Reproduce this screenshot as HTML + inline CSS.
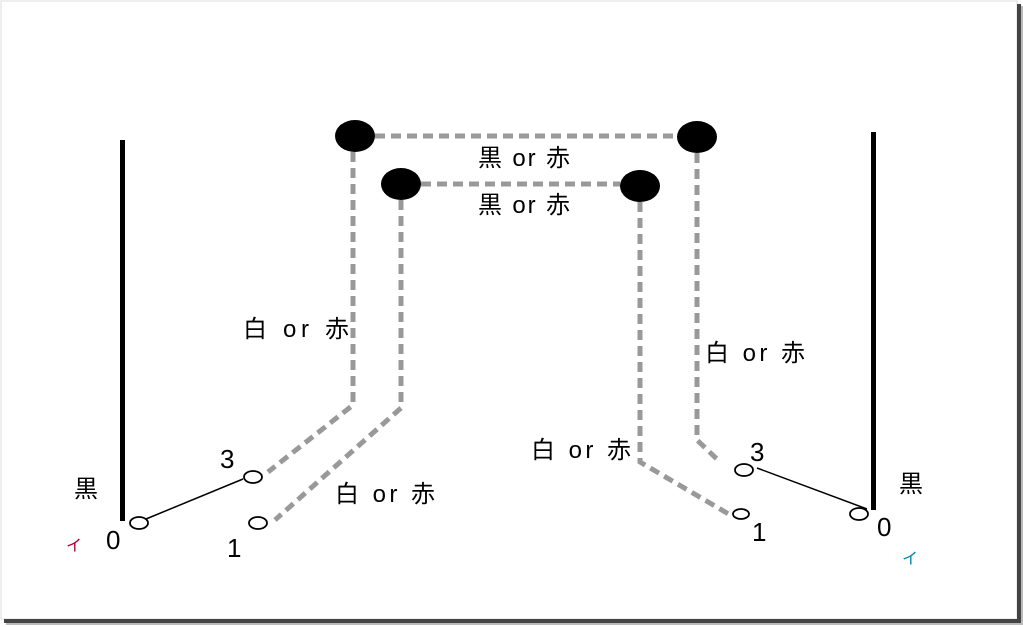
<!DOCTYPE html>
<html><head><meta charset="utf-8"><style>body{margin:0;background:#fff}svg{display:block}</style></head><body>
<svg width="1023" height="627" viewBox="0 0 1023 627" font-family="Liberation Sans, Noto Sans CJK JP, sans-serif">
<rect x="0" y="0" width="1023" height="627" fill="#fff"/>
<rect x="1" y="1" width="1016" height="618" fill="none" stroke="#ddd" stroke-width="1"/>
<rect x="1017" y="4" width="4" height="619" fill="#444"/>
<rect x="4" y="619" width="1017" height="4" fill="#444"/>
<rect x="1021" y="6" width="2" height="619" fill="#bbb"/>
<rect x="6" y="623" width="1017" height="2" fill="#bbb"/>
<g stroke="#999" stroke-width="5" fill="none" stroke-dasharray="10,6">
<path d="M375 136H677"/><path d="M421 184H620"/>
<path d="M353 152V405L268 472"/>
<path d="M401 200V408L275 520"/>
<path d="M697 153V440L720 462"/>
<path d="M640 202V462L732 516"/>
</g>
<g fill="#000">
<ellipse cx="355" cy="136" rx="20" ry="16"/><ellipse cx="697" cy="137" rx="20" ry="16"/>
<ellipse cx="401" cy="184" rx="20" ry="16"/><ellipse cx="640" cy="186" rx="20" ry="16"/>
<rect x="120" y="140" width="5" height="381"/><rect x="871" y="132" width="5" height="378"/>
</g>
<g fill="#fff" stroke="#000" stroke-width="1.8">
<ellipse cx="139" cy="523" rx="9" ry="6"/><ellipse cx="253" cy="477" rx="9" ry="6"/>
<ellipse cx="258" cy="523" rx="9" ry="6"/><ellipse cx="744" cy="470" rx="9" ry="6"/>
<ellipse cx="741" cy="514" rx="8" ry="5"/><ellipse cx="859" cy="514" rx="9" ry="6"/>
</g>
<g stroke="#000" stroke-width="1.5"><path d="M146 519L243 479"/><path d="M757 468L867 509"/></g>
<g font-size="24" fill="#000">
<text x="74" y="497">黒</text><text x="899" y="492">黒</text>
<text x="243" y="337" textLength="106" lengthAdjust="spacing">白 or 赤</text>
<text x="335" y="502" textLength="100" lengthAdjust="spacing">白 or 赤</text>
<text x="478" y="166" textLength="92" lengthAdjust="spacing">黒 or 赤</text>
<text x="478" y="213" textLength="92" lengthAdjust="spacing">黒 or 赤</text>
<text x="531" y="458" textLength="100" lengthAdjust="spacing">白 or 赤</text>
<text x="705" y="361" textLength="100" lengthAdjust="spacing">白 or 赤</text>
</g>
<g font-size="26" fill="#000">
<text x="106" y="549">0</text><text x="877" y="536">0</text>
<text x="220" y="468">3</text><text x="750" y="461">3</text>
<text x="227" y="557">1</text><text x="752" y="541">1</text>
</g>
<text x="66" y="551" font-size="16" fill="#a03">イ</text>
<text x="902" y="564" font-size="16" fill="#08a">イ</text>
</svg>
</body></html>
